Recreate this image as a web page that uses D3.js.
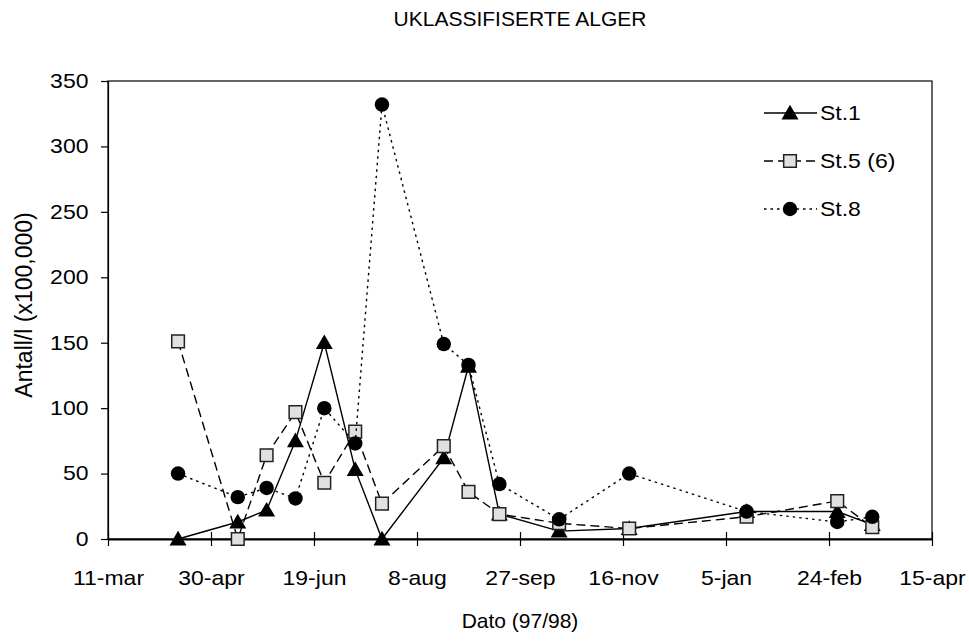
<!DOCTYPE html>
<html>
<head>
<meta charset="utf-8">
<script src="https://cdn.jsdelivr.net/npm/d3@7"></script>
<style>
  body { margin: 0; background: #fff; }
  svg { font-family: "Liberation Sans", Arial, sans-serif; }
</style>
</head>
<body>
<svg id="chart" width="969" height="643"></svg>
<script>
const WIDTH  = 969;
const HEIGHT = 643;
const MARGIN = { top: 81, right: 37, bottom: 104, left: 108 };

// sampling dates (97/98)
const dates = [
  '1997-04-14', '1997-05-13', '1997-05-27', '1997-06-10', '1997-06-24',
  '1997-07-09', '1997-07-22', '1997-08-21', '1997-09-02', '1997-09-17',
  '1997-10-16', '1997-11-19', '1998-01-15', '1998-02-28', '1998-03-17'
];

// Antall/l (x100,000)
const st1 = [0, 13, 22, 75, 150, 53, 0, 62, 132, 19, 6, 8, 21, 21, 11];
const st5 = [151, 0, 64, 97, 43, 82, 27, 71, 36, 19, 12, 8, 17, 29, 9];
const st8 = [50, 32, 39, 31, 100, 73, 332, 149, 133, 42, 15, 50, 21, 13, 17];

const xTickDates  = ['1997-03-11', '1997-04-30', '1997-06-19', '1997-08-08', '1997-09-27',
                     '1997-11-16', '1998-01-05', '1998-02-24', '1998-04-15'];
const xTickLabels = ['11-mar', '30-apr', '19-jun', '8-aug', '27-sep', '16-nov', '5-jan', '24-feb', '15-apr'];
const yTicks      = [0, 50, 100, 150, 200, 250, 300, 350];

const parse = d3.utcParse('%Y-%m-%d');
const FONT = '"Liberation Sans", Arial, sans-serif';
const LABEL_SIZE = 20;
const STRETCH = 1.15;   // the tick and legend text is a bit wider than plain Arial

const series = [
  { name: 'St.1',     values: st1, symbol: d3.symbolTriangle, size: 125, fill: '#000',    dash: null },
  { name: 'St.5 (6)', values: st5, symbol: d3.symbolSquare,   size: 160, fill: '#e0e0e0', dash: '9,5' },
  { name: 'St.8',     values: st8, symbol: d3.symbolCircle,   size: 165, fill: '#000',    dash: '2.5,4' }
];

const svg = d3.select('#chart');
const innerW = WIDTH - MARGIN.left - MARGIN.right;
const innerH = HEIGHT - MARGIN.top - MARGIN.bottom;

const x = d3.scaleUtc()
  .domain([parse(xTickDates[0]), parse(xTickDates[xTickDates.length - 1])])
  .range([0, innerW]);
const y = d3.scaleLinear().domain([0, 350]).range([innerH, 0]);

const g = svg.append('g').attr('transform', `translate(${MARGIN.left},${MARGIN.top})`);

// frame
g.append('rect')
  .attr('width', innerW).attr('height', innerH)
  .attr('fill', 'none').attr('stroke', '#000').attr('stroke-width', 1.2);

// x axis (ticks cross the baseline, labels sit well below)
const xAxis = g.append('g')
  .attr('transform', `translate(0,${innerH})`)
  .call(d3.axisBottom(x)
    .tickValues(xTickDates.map(parse))
    .tickFormat((d, i) => xTickLabels[i])
    .tickSizeInner(7).tickSizeOuter(0).tickPadding(25));
xAxis.select('.domain').attr('stroke-width', 2);
xAxis.selectAll('.tick line').attr('y1', -7).attr('stroke-width', 1.2);
xAxis.selectAll('.tick text')
  .attr('font-size', LABEL_SIZE).attr('fill', '#000').attr('font-family', FONT)
  .attr('transform', `scale(${STRETCH},1)`);

// y axis
const yAxis = g.append('g')
  .call(d3.axisLeft(y).tickValues(yTicks).tickSizeInner(7).tickSizeOuter(0).tickPadding(10));
yAxis.select('.domain').attr('stroke-width', 1.2);
yAxis.selectAll('.tick line').attr('stroke-width', 1.2);
yAxis.selectAll('.tick text')
  .attr('font-size', LABEL_SIZE).attr('fill', '#000').attr('font-family', FONT)
  .attr('transform', `scale(${STRETCH},1)`);

// lines + markers
const line = d3.line().x(d => x(d.date)).y(d => y(d.v));

series.forEach(s => {
  const pts = s.values.map((v, i) => ({ date: parse(dates[i]), v }));
  g.append('path')
    .datum(pts)
    .attr('d', line)
    .attr('fill', 'none')
    .attr('stroke', '#000')
    .attr('stroke-width', 1.4)
    .attr('stroke-dasharray', s.dash);
  g.selectAll(null)
    .data(pts)
    .enter().append('path')
      .attr('transform', d => `translate(${x(d.date)},${y(d.v) + (s.symbol === d3.symbolTriangle ? 1.5 : 0)})`)
      .attr('d', d3.symbol(s.symbol, s.size))
      .attr('fill', s.fill)
      .attr('stroke', s.fill === '#000' ? 'none' : '#222')
      .attr('stroke-width', 1.5);
});

// legend
const legend = svg.append('g').attr('transform', 'translate(764,113)');
series.forEach((s, i) => {
  const row = legend.append('g').attr('transform', `translate(0,${i * 48})`);
  row.append('line')
    .attr('x1', 0).attr('x2', 53)
    .attr('stroke', '#000').attr('stroke-width', 1.4)
    .attr('stroke-dasharray', s.dash);
  row.append('path')
    .attr('transform', `translate(26,${s.symbol === d3.symbolTriangle ? 1.5 : 0})`)
    .attr('d', d3.symbol(s.symbol, s.size))
    .attr('fill', s.fill)
    .attr('stroke', s.fill === '#000' ? 'none' : '#222')
    .attr('stroke-width', 1.5);
  row.append('text')
    .attr('transform', `translate(56,0) scale(${STRETCH},1)`)
    .attr('dy', '0.36em')
    .attr('font-size', LABEL_SIZE)
    .text(s.name);
});

// titles
svg.append('text')
  .attr('x', MARGIN.left + innerW / 2).attr('y', 26)
  .attr('text-anchor', 'middle').attr('font-size', 21)
  .text('UKLASSIFISERTE ALGER');

svg.append('text')
  .attr('x', MARGIN.left + innerW / 2).attr('y', 628)
  .attr('text-anchor', 'middle').attr('font-size', 21)
  .text('Dato (97/98)');

svg.append('text')
  .attr('transform', `translate(32,${MARGIN.top + innerH / 2 - 5}) rotate(-90)`)
  .attr('text-anchor', 'middle').attr('font-size', 23)
  .text('Antall/l (x100,000)');
</script>
</body>
</html>
